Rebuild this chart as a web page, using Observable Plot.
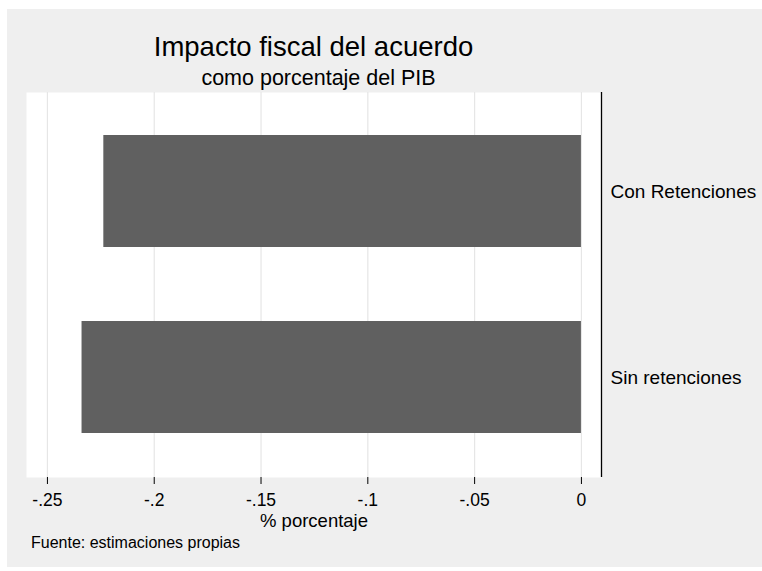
<!DOCTYPE html>
<html>
<head>
<meta charset="utf-8">
<script src="https://cdn.jsdelivr.net/npm/d3@7"></script>
<script src="https://cdn.jsdelivr.net/npm/@observablehq/plot@0.6"></script>
<style>
  html, body { margin: 0; padding: 0; background: #ffffff; }
  body { width: 762px; height: 571px; position: relative; overflow: hidden; font-family: "Liberation Sans", Arial, sans-serif; }
  #panel { position: absolute; left: 7px; top: 9px; width: 755px; height: 558px; background: #efefef; }
  .t { position: absolute; color: #000; white-space: nowrap; line-height: 1; }
  #title { left: 0; width: 627px; text-align: center; top: 33px; font-size: 27.5px; }
  #subtitle { left: 0; width: 637px; text-align: center; top: 67.5px; font-size: 21.5px; }
  #caption { left: 31px; top: 535px; font-size: 16px; }
  #chart { position: absolute; left: 0; top: 92px; }
</style>
</head>
<body>
<div id="panel"></div>
<div class="t" id="title">Impacto fiscal del acuerdo</div>
<div class="t" id="subtitle">como porcentaje del PIB</div>
<div id="chart"></div>
<div class="t" id="caption">Fuente: estimaciones propias</div>
<script>
const categories = ["Con Retenciones", "Sin retenciones"];
const values = [-0.2236, -0.2338];
const tickValues = [-0.25, -0.2, -0.15, -0.1, -0.05, 0];
const tickLabels = ["-.25", "-.2", "-.15", "-.1", "-.05", "0"];
const xLabel = "% porcentaje";

const data = categories.map((c, i) => ({category: c, value: values[i]}));
const fmt = d => tickLabels[tickValues.indexOf(d)];

const chart = Plot.plot({
  width: 762,
  height: 441,
  marginTop: 0,
  marginBottom: 56,
  marginLeft: 26,
  marginRight: 161,
  style: {background: "transparent", fontFamily: "Liberation Sans, Arial, sans-serif", fontSize: "16px", color: "#000"},
  x: {domain: [-0.2598, 0.0094], ticks: tickValues, tickFormat: fmt, label: null},
  y: {domain: categories, paddingInner: 0.396, paddingOuter: 0.23, label: null},
  marks: [
    Plot.frame({fill: "white", stroke: "none"}),
    Plot.gridX(tickValues, {stroke: "#e6e6e6", strokeOpacity: 1, strokeWidth: 1.2}),
    Plot.barX(data, {x1: 0, x2: "value", y: "category", fill: "#606060"}),
    Plot.axisX(tickValues, {tickSize: 7, tickPadding: 9.5, fontSize: 17.5, tickFormat: fmt, label: null, stroke: "#000"}),
    Plot.ruleY([0], {frameAnchor: "bottom", stroke: "#000", strokeWidth: 1.3}),
    Plot.ruleX([0.0094], {stroke: "#000", strokeWidth: 1.3}),
    Plot.axisY({anchor: "right", tickSize: 0, tickPadding: 9, fontSize: 19, label: null}),
    Plot.text([xLabel], {frameAnchor: "bottom", lineAnchor: "middle", dy: 43.5, fontSize: 18.5, fill: "#000"})
  ]
});
document.getElementById("chart").appendChild(chart);
</script>
</body>
</html>
